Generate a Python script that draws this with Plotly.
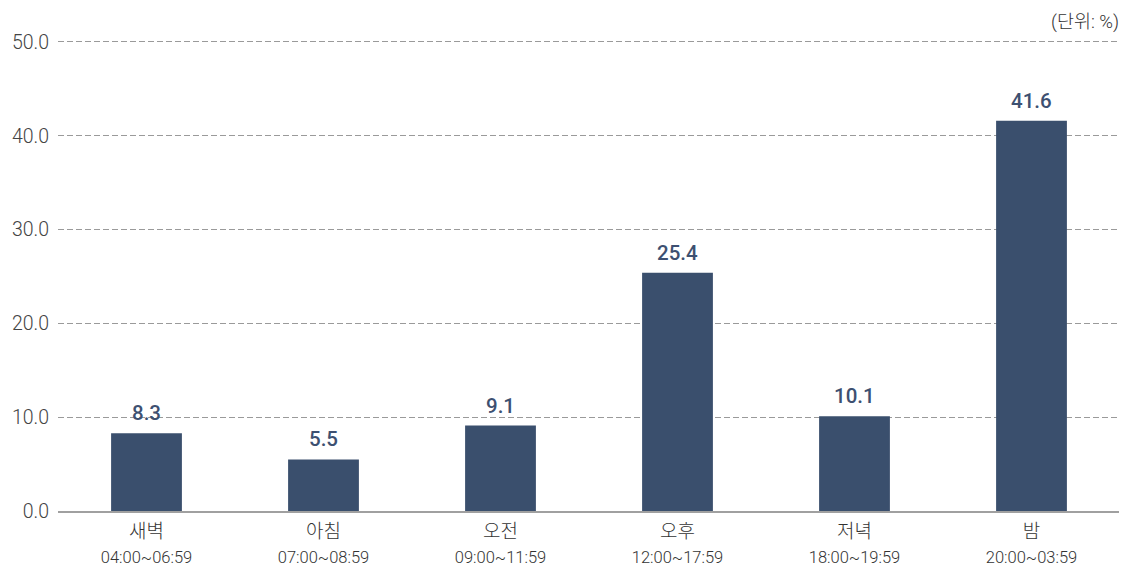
import plotly.graph_objects as go

categories = ["새벽", "아침", "오전", "오후", "저녁", "밤"]
time_ranges = ["04:00~06:59", "07:00~08:59", "09:00~11:59", "12:00~17:59", "18:00~19:59", "20:00~03:59"]
values = [8.3, 5.5, 9.1, 25.4, 10.1, 41.6]
y_ticks = [0, 10, 20, 30, 40, 50]

FONT = "Roboto, 'Noto Sans CJK KR', sans-serif"
BAR = "#3a4f6d"

ticktext = [f"{c}<br><span style='font-size:16.5px'>{t}</span>" for c, t in zip(categories, time_ranges)]

fig = go.Figure()
fig.add_trace(go.Bar(
    x=categories, y=values, width=0.4,
    marker=dict(color=BAR, line=dict(width=0)),
    hoverinfo="skip",
))

for c, v in zip(categories, values):
    fig.add_annotation(x=c, y=v, text=f"{v:.1f}", showarrow=False,
                       yanchor="bottom", yshift=6,
                       font=dict(family=FONT, size=20.5, color="#3d5071", weight=500))

fig.add_annotation(xref="paper", yref="paper", x=1, y=1, xanchor="right", yanchor="bottom",
                   yshift=6, borderpad=0, text="(단위: %)", showarrow=False,
                   font=dict(family=FONT, size=18.5, color="#333333", weight=300))

fig.update_layout(
    width=1119, height=563,
    margin=dict(l=50, r=7, t=32, b=60),
    paper_bgcolor="white", plot_bgcolor="white",
    showlegend=False,
    bargap=0.6,
    font=dict(family=FONT),
)
fig.update_xaxes(
    tickvals=categories, ticktext=ticktext, automargin=False,
    tickfont=dict(family=FONT, size=19, color="#333333", weight=300),
    showline=True, linecolor="#a0a0a0", linewidth=2,
    showgrid=False, ticks="", ticklabelstandoff=2,
)
fig.update_yaxes(
    range=[0, 50.2], tickvals=y_ticks, tickformat=".1f", automargin=False,
    tickfont=dict(family=FONT, size=19.5, color="#444444", weight=300),
    showgrid=True, gridcolor="#9a9a9a", griddash="6px,3px", gridwidth=1,
    zeroline=False, showline=False, ticks="", ticklabelstandoff=8,
)

fig.write_html("out.html")
